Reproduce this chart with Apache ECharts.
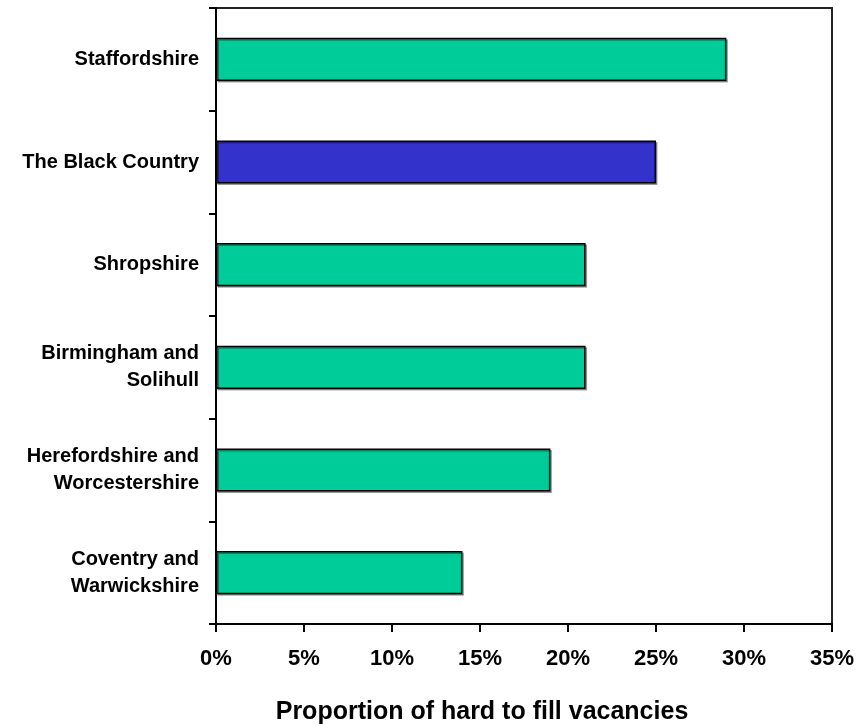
<!DOCTYPE html>
<html>
<head>
<meta charset="utf-8">
<script src="https://cdn.jsdelivr.net/npm/echarts@6/dist/echarts.min.js"></script>
<style>html,body{margin:0;padding:0;background:#fff;}#c{width:867px;height:725px;}</style>
</head>
<body>
<div id="c"></div>
<script>
const categories = ["Staffordshire", "The Black Country", "Shropshire", "Birmingham and\nSolihull", "Herefordshire and\nWorcestershire", "Coventry and\nWarwickshire"];
const values = [29, 25, 21, 21, 19, 14];
const highlighted = ["The Black Country"];
const xTicks = [0, 5, 10, 15, 20, 25, 30, 35];

const green = '#00CC99';
const blue = '#3333CC';
const chart = echarts.init(document.getElementById('c'));
const data = values.map((v, i) => ({
  value: v,
  itemStyle: { color: highlighted.includes(categories[i]) ? blue : green }
}));
chart.setOption({
  animation: false,
  grid: { left: 216, right: 35, top: 8, bottom: 101, containLabel: false, outerBoundsMode: 'none', show: true, borderColor: '#222', borderWidth: 2, backgroundColor: 'transparent' },
  xAxis: {
    type: 'value', min: xTicks[0], max: xTicks[xTicks.length - 1], interval: 5,
    name: 'Proportion of hard to fill vacancies', nameLocation: 'middle', nameGap: 76,
    nameTextStyle: { fontFamily: 'Liberation Sans', fontWeight: 'bold', fontSize: 25, color: '#000', padding: [0, 84, 0, 0] },
    axisLine: { show: true, lineStyle: { color: '#000', width: 2 } },
    axisTick: { show: true, inside: false, length: 8, lineStyle: { color: '#000', width: 2 } },
    axisLabel: { formatter: '{value}%', margin: 24, fontFamily: 'Liberation Sans', fontWeight: 'bold', fontSize: 22, color: '#000' },
    splitLine: { show: false }
  },
  yAxis: {
    type: 'category', data: categories, inverse: true,
    axisLine: { show: true, lineStyle: { color: '#000', width: 2 } },
    axisTick: { show: true, inside: false, length: 7, alignWithLabel: false, lineStyle: { color: '#000', width: 2 } },
    axisLabel: { margin: 17, fontFamily: 'Liberation Sans', fontWeight: 'bold', fontSize: 20, lineHeight: 27, color: '#000', align: 'right' }
  },
  series: [{
    type: 'bar', data: data, barCategoryGap: '58%',
    itemStyle: { borderColor: '#000', borderWidth: 1.5, shadowColor: 'rgba(0,0,0,0.35)', shadowOffsetX: 1.5, shadowOffsetY: 1.5 }
  }]
});
</script>
</body>
</html>
